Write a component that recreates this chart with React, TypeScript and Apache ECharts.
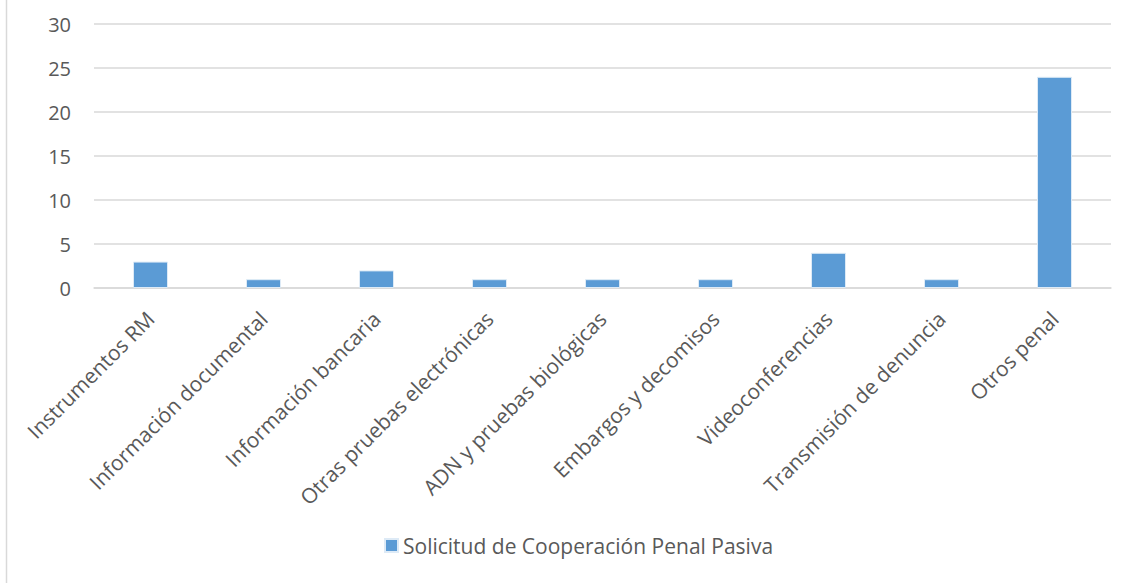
import React, { useEffect, useRef } from "react";
import * as echarts from "echarts";

const categories = [
  "Instrumentos RM",
  "Información documental",
  "Información bancaria",
  "Otras pruebas electrónicas",
  "ADN y pruebas biológicas",
  "Embargos y decomisos",
  "Videoconferencias",
  "Transmisión de denuncia",
  "Otros penal",
];
const seriesName = "Solicitud de Cooperación Penal Pasiva";
const values = [3, 1, 2, 1, 1, 1, 4, 1, 24];
const yMin = 0;
const yMax = 30;
const yInterval = 5;

const FONT = "'Open Sans', sans-serif";
const TEXT = "#595959";

export default function App() {
  const ref = useRef<HTMLDivElement>(null);
  useEffect(() => {
    document.body.style.margin = "0";
    const chart = echarts.init(ref.current!, null, { renderer: "svg" });
    chart.setOption({
      animation: false,
      backgroundColor: "#ffffff",
      textStyle: { fontFamily: FONT },
      grid: { left: 94, right: 21, top: 24, bottom: 295, containLabel: false },
      legend: {
        bottom: 22,
        left: 379,
        itemWidth: 13,
        itemHeight: 13,
        itemGap: 10,
        icon: "rect",
        textStyle: { color: TEXT, fontSize: 21, fontFamily: FONT },
        data: [seriesName],
      },
      graphic: [
        {
          type: "line",
          shape: { x1: 6.5, y1: 0, x2: 6.5, y2: 583 },
          style: { stroke: "#d9d9d9", lineWidth: 1.5 },
        },
      ],
      xAxis: {
        type: "category",
        data: categories,
        axisLine: { show: true, lineStyle: { color: "#d9d9d9", width: 1.5 } },
        axisTick: { show: false },
        axisLabel: {
          rotate: 45,
          interval: 0,
          margin: 27,
          color: TEXT,
          fontSize: 21,
          fontFamily: FONT,
        },
      },
      yAxis: {
        type: "value",
        min: yMin,
        max: yMax,
        interval: yInterval,
        axisLine: { show: false },
        axisTick: { show: false },
        splitLine: { lineStyle: { color: "#d9d9d9", width: 1.5 } },
        axisLabel: { margin: 23, color: TEXT, fontSize: 20, fontFamily: FONT },
      },
      series: [
        {
          name: seriesName,
          type: "bar",
          data: values,
          barWidth: 35,
          itemStyle: { color: "#5b9bd5", borderColor: "#ddeaf6", borderWidth: 1 },
        },
      ],
    });
    return () => chart.dispose();
  }, []);
  return <div ref={ref} style={{ width: 1132, height: 583 }} />;
}
